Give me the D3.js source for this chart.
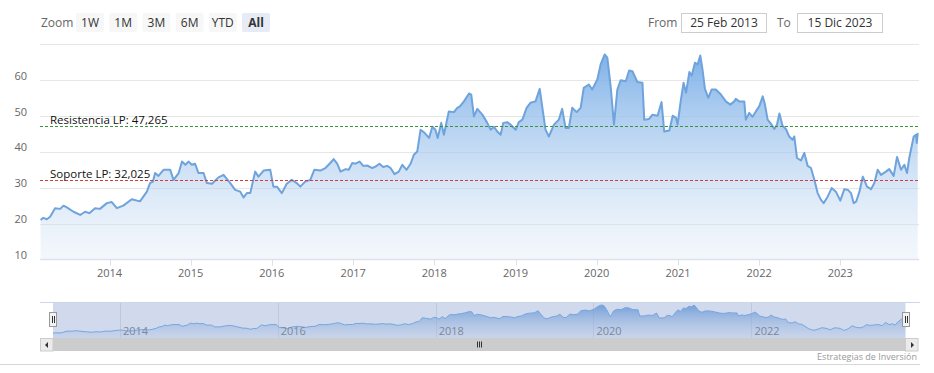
<!DOCTYPE html>
<html>
<head>
<meta charset="utf-8">
<script src="https://cdn.jsdelivr.net/npm/d3@7/dist/d3.min.js"></script>
<style>
    body { margin: 0; background: #fff; }
    svg text { font-family: "Open Sans", sans-serif; }
</style>
</head>
<body>
<svg id="chart" width="934" height="373"></svg>
<script>
// price series
var dates = [
    "2013-02-25","2013-03-09","2013-03-25","2013-04-09","2013-05-01","2013-05-24","2013-06-08","2013-06-23",
    "2013-07-23","2013-08-22","2013-09-13","2013-10-02","2013-10-28","2013-11-19","2013-12-20","2014-01-11",
    "2014-02-03","2014-03-04","2014-04-11","2014-05-18","2014-06-18","2014-07-02","2014-07-15","2014-07-25",
    "2014-08-09","2014-09-01","2014-10-01","2014-10-16","2014-11-08","2014-11-23","2014-12-08","2014-12-23",
    "2015-01-06","2015-01-21","2015-02-05","2015-02-28","2015-03-15","2015-04-07","2015-05-06","2015-05-29",
    "2015-06-28","2015-07-20","2015-08-12","2015-08-27","2015-09-11","2015-09-26","2015-10-18","2015-11-02",
    "2015-11-25","2015-12-25","2016-01-08","2016-01-24","2016-02-15","2016-03-08","2016-03-31","2016-04-22",
    "2016-05-08","2016-05-30","2016-06-22","2016-07-10","2016-08-06","2016-08-29","2016-09-20","2016-10-05",
    "2016-10-21","2016-11-05","2016-11-28","2016-12-12","2016-12-28","2017-01-11","2017-01-30","2017-02-15",
    "2017-03-05","2017-03-28","2017-04-11","2017-04-29","2017-05-16","2017-06-03","2017-06-18","2017-07-06",
    "2017-07-25","2017-08-10","2017-08-29","2017-09-16","2017-10-01","2017-10-16","2017-10-31","2017-11-15",
    "2017-12-08","2017-12-23","2018-01-06","2018-01-16","2018-02-01","2018-02-13","2018-03-07","2018-03-30",
    "2018-04-14","2018-04-26","2018-05-14","2018-06-06","2018-06-16","2018-06-28","2018-07-13","2018-08-05",
    "2018-08-27","2018-09-11","2018-09-26","2018-10-11","2018-10-26","2018-11-07","2018-11-25","2018-12-10",
    "2019-01-02","2019-01-16","2019-02-01","2019-02-20","2019-03-09","2019-04-01","2019-04-20","2019-05-01",
    "2019-05-16","2019-05-31","2019-06-23","2019-07-15","2019-07-30","2019-08-14","2019-08-29","2019-09-13",
    "2019-10-03","2019-10-21","2019-11-04","2019-11-27","2019-12-12","2020-01-04","2020-01-19","2020-02-06",
    "2020-02-18","2020-03-04","2020-03-19","2020-04-03","2020-04-18","2020-05-11","2020-05-26","2020-06-10",
    "2020-07-02","2020-07-25","2020-08-02","2020-08-24","2020-09-08","2020-10-01","2020-10-19","2020-10-31",
    "2020-11-23","2020-12-08","2020-12-23","2020-12-30","2021-01-14","2021-01-26","2021-02-06","2021-02-21",
    "2021-03-04","2021-03-18","2021-03-30","2021-04-11","2021-04-21","2021-05-02","2021-05-17","2021-06-01",
    "2021-06-20","2021-07-13","2021-08-04","2021-08-24","2021-09-11","2021-09-18","2021-10-03","2021-10-26",
    "2021-11-02","2021-11-17","2021-12-02","2021-12-17","2022-01-01","2022-01-17","2022-01-27","2022-02-08",
    "2022-02-26","2022-03-10","2022-03-22","2022-04-02","2022-04-16","2022-05-01","2022-05-16","2022-05-31",
    "2022-06-08","2022-06-20","2022-07-08","2022-07-23","2022-08-07","2022-08-22","2022-09-06","2022-09-21",
    "2022-10-06","2022-10-18","2022-11-05","2022-11-23","2022-12-12","2023-01-01","2023-01-19","2023-02-04",
    "2023-02-18","2023-03-02","2023-03-13","2023-03-28","2023-04-12","2023-05-01","2023-05-19","2023-06-03",
    "2023-06-18","2023-07-03","2023-07-25","2023-08-09","2023-08-29","2023-09-13","2023-10-01","2023-10-16",
    "2023-10-28","2023-11-07","2023-11-27","2023-12-07","2023-12-11","2023-12-15"
];
var prices = [
    21.0,21.6,21.2,21.9,24.3,24.1,25.0,24.5, 23.3,22.4,23.3,22.9,24.3,24.1,25.7,26.0,
    24.3,25.0,26.8,26.2,28.9,31.3,31.7,34.1, 33.3,35.0,35.0,32.2,34.1,37.3,36.4,37.3,
    36.4,36.7,34.1,34.1,31.3,31.1,32.9,33.6, 31.3,29.4,28.9,27.3,28.5,28.5,34.5,33.1,
    34.8,35.0,30.3,30.3,28.5,31.1,32.2,31.3, 30.3,31.7,32.2,35.0,34.8,35.5,36.9,38.0,
    36.7,34.5,35.2,35.0,36.9,36.7,37.3,36.1, 36.2,35.5,35.9,36.7,35.8,36.1,35.5,33.8,
    34.5,36.4,35.0,36.7,39.2,40.1,46.2,45.5, 43.9,47.0,46.2,43.9,48.1,44.8,51.3,51.1,
    52.3,52.7,54.1,56.3,56.0,49.9,52.0,50.4, 48.1,46.2,47.0,45.7,44.8,48.1,48.3,47.6,
    46.2,48.3,49.0,52.3,53.7,54.1,57.6,52.7, 46.2,44.3,47.6,49.0,52.0,46.7,46.7,52.3,
    51.1,52.3,57.9,58.8,57.4,60.2,64.4,67.2, 66.3,58.3,47.6,57.4,60.0,59.7,62.7,62.5,
    59.5,59.3,49.0,49.2,50.4,50.1,53.9,45.7, 46.0,50.1,49.5,47.6,54.6,59.3,56.5,62.3,
    61.3,64.9,64.4,66.9,63.0,57.6,55.1,57.4, 57.4,56.0,54.1,53.2,54.1,54.8,54.1,54.1,
    49.0,50.9,49.8,51.3,52.7,55.5,53.2,49.0, 47.6,46.4,47.6,50.7,47.3,46.4,44.3,43.4,
    44.3,38.3,37.6,39.7,36.1,35.5,32.2,28.5, 26.6,25.7,27.5,29.9,28.9,26.4,29.6,29.4,
    28.5,25.7,26.1,28.9,33.1,30.3,29.6,31.3, 35.0,33.6,34.5,35.2,33.3,38.6,35.0,36.4,
    34.1,38.3,44.3,44.8,42.5,45.3
];
var yTicks = [10, 20, 30, 40, 50, 60, 70];
var yearTicks = [2014, 2015, 2016, 2017, 2018, 2019, 2020, 2021, 2022, 2023];
var navYearTicks = [2014, 2016, 2018, 2020, 2022];
var levelValues = [47.265, 32.025];
var levelLabels = ["Resistencia LP: 47,265", "Soporte LP: 32,025"];
var levelColors = ["#3d9140", "#d23c3c"];
var zoomButtons = ["1W", "1M", "3M", "6M", "YTD", "All"];
var rangeFrom = "25 Feb 2013";
var rangeTo = "15 Dic 2023";
var credits = "Estrategias de Inversión";

var parse = d3.timeParse("%Y-%m-%d");
var data = dates.map(function (d, i) { return { date: parse(d), value: prices[i] }; });

var svg = d3.select("#chart");
var defs = svg.append("defs");

// main plot
var x = d3.scaleTime().domain([parse("2013-02-25"), parse("2023-12-15")]).range([40.6, 917.7]);
var y = d3.scaleLinear().domain([10, 70]).range([259.4, 44.4]);

var grad = defs.append("linearGradient").attr("id", "areaGrad")
    .attr("gradientUnits", "userSpaceOnUse")
    .attr("x1", 0).attr("x2", 0).attr("y1", y(70)).attr("y2", y(10));
grad.append("stop").attr("offset", "0%").attr("stop-color", "#6fa8e6").attr("stop-opacity", 0.95);
grad.append("stop").attr("offset", "100%").attr("stop-color", "#dfeaf6").attr("stop-opacity", 0.35);

svg.append("g").selectAll("line").data(yTicks).join("line")
    .attr("x1", 40).attr("x2", 919)
    .attr("y1", function (d) { return Math.round(y(d)) + 0.5; })
    .attr("y2", function (d) { return Math.round(y(d)) + 0.5; })
    .attr("stroke", "#e6e6e6").attr("stroke-width", 1);

svg.append("g").selectAll("text").data(yTicks.filter(function (d) { return d < 70; })).join("text")
    .attr("x", 27).attr("y", function (d) { return y(d) - 0.5; })
    .attr("text-anchor", "end").attr("font-size", 11).attr("fill", "#666")
    .text(function (d) { return d; });

var area = d3.area().x(function (d) { return x(d.date); })
    .y0(y(10)).y1(function (d) { return y(d.value); });
var line = d3.line().x(function (d) { return x(d.date); }).y(function (d) { return y(d.value); });

svg.append("path").datum(data).attr("d", area).attr("fill", "url(#areaGrad)");
svg.append("path").datum(data).attr("d", line).attr("fill", "none")
    .attr("stroke", "#6fa3dc").attr("stroke-width", 2).attr("stroke-linejoin", "round");

// support / resistance lines
levelValues.forEach(function (v, i) {
    var ly = Math.round(y(v)) + 0.5;
    svg.append("line").attr("x1", 40).attr("x2", 919).attr("y1", ly).attr("y2", ly)
        .attr("stroke", levelColors[i]).attr("stroke-width", 1).attr("stroke-dasharray", "3,2");
    svg.append("text").attr("x", 50).attr("y", ly - 3)
        .attr("font-size", 11.5).attr("fill", "#111").text(levelLabels[i]);
});

// x axis
var xAxisY = 259.5;
svg.append("line").attr("x1", 40).attr("x2", 919).attr("y1", xAxisY).attr("y2", xAxisY)
    .attr("stroke", "#dde1ea").attr("stroke-width", 1.5);
var yearDates = yearTicks.map(function (yr) { return new Date(yr, 0, 1); });
svg.append("g").selectAll("line").data(yearDates).join("line")
    .attr("x1", function (d) { return Math.round(x(d)) + 0.5; })
    .attr("x2", function (d) { return Math.round(x(d)) + 0.5; })
    .attr("y1", xAxisY).attr("y2", xAxisY + 6).attr("stroke", "#dde1ea");
svg.append("g").selectAll("text").data(yearDates).join("text")
    .attr("x", function (d) { return x(d); }).attr("y", 277)
    .attr("text-anchor", "middle").attr("font-size", 11).attr("fill", "#666")
    .text(d3.timeFormat("%Y"));

// navigator
var nx = d3.scaleTime().domain(x.domain()).range([53, 905.5]);
var ny = d3.scaleLinear().domain([13, 72]).range([338, 302]);
var navGrad = defs.append("linearGradient").attr("id", "navGrad")
    .attr("gradientUnits", "userSpaceOnUse")
    .attr("x1", 0).attr("x2", 0).attr("y1", 302).attr("y2", 338);
navGrad.append("stop").attr("offset", "0%").attr("stop-color", "#5d97dc").attr("stop-opacity", 0.9);
navGrad.append("stop").attr("offset", "100%").attr("stop-color", "#d6e4f4").attr("stop-opacity", 0.3);

var navYearDates = navYearTicks.map(function (yr) { return new Date(yr, 0, 1); });
svg.append("g").selectAll("line").data(navYearDates).join("line")
    .attr("x1", function (d) { return Math.round(nx(d)) + 0.5; })
    .attr("x2", function (d) { return Math.round(nx(d)) + 0.5; })
    .attr("y1", 302).attr("y2", 338).attr("stroke", "#e6e6e6");

var navArea = d3.area().x(function (d) { return nx(d.date); })
    .y0(338).y1(function (d) { return ny(d.value); });
var navLine = d3.line().x(function (d) { return nx(d.date); }).y(function (d) { return ny(d.value); });
svg.append("path").datum(data).attr("d", navArea).attr("fill", "url(#navGrad)");
svg.append("path").datum(data).attr("d", navLine).attr("fill", "none")
    .attr("stroke", "#7cb5ec").attr("stroke-width", 1);

svg.append("g").selectAll("text").data(navYearDates).join("text")
    .attr("x", function (d) { return nx(d) + 3; }).attr("y", 335)
    .attr("font-size", 11).attr("fill", "#888")
    .text(d3.timeFormat("%Y"));

// mask over selected range
svg.append("rect").attr("x", 53).attr("y", 302).attr("width", 852.5).attr("height", 36)
    .attr("fill", "rgba(102,133,194,0.3)");
svg.append("line").attr("x1", 40).attr("x2", 920).attr("y1", 302.5).attr("y2", 302.5)
    .attr("stroke", "#ccd6eb");

// handles
[53, 905.5].forEach(function (hx) {
    var g = svg.append("g").attr("transform", "translate(" + Math.round(hx - 4) + ",312)");
    g.append("rect").attr("x", 0.5).attr("y", 0.5).attr("width", 7).attr("height", 14)
        .attr("fill", "#f2f2f2").attr("stroke", "#999");
    g.append("line").attr("x1", 3.5).attr("x2", 3.5).attr("y1", 4).attr("y2", 11).attr("stroke", "#333");
    g.append("line").attr("x1", 5.5).attr("x2", 5.5).attr("y1", 4).attr("y2", 11).attr("stroke", "#333");
});

// scrollbar
svg.append("rect").attr("x", 53).attr("y", 338).attr("width", 852.5).attr("height", 13).attr("fill", "#cccccc");
svg.append("rect").attr("x", 40.5).attr("y", 338.5).attr("width", 12.5).attr("height", 12.5)
    .attr("fill", "#ebebeb").attr("stroke", "#cccccc");
svg.append("rect").attr("x", 905.5).attr("y", 338.5).attr("width", 12.5).attr("height", 12.5)
    .attr("fill", "#ebebeb").attr("stroke", "#cccccc");
svg.append("path").attr("d", "M48,342 L48,348 L45,345 Z").attr("fill", "#333");
svg.append("path").attr("d", "M911,342 L911,348 L914,345 Z").attr("fill", "#333");
[-2, 0, 2].forEach(function (o) {
    var cx = 479 + o;
    svg.append("line").attr("x1", cx + 0.5).attr("x2", cx + 0.5).attr("y1", 341.5).attr("y2", 347.5)
        .attr("stroke", "#333");
});

// credits and bottom rule
svg.append("text").attr("x", 917).attr("y", 360).attr("text-anchor", "end")
    .attr("font-size", 9).attr("fill", "#999").text(credits);
svg.append("line").attr("x1", 0).attr("x2", 920).attr("y1", 364.5).attr("y2", 364.5).attr("stroke", "#d8d8d8");

// range selector
svg.append("text").attr("x", 41).attr("y", 27).attr("font-size", 12).attr("fill", "#666").text("Zoom");
var btn = svg.append("g").selectAll("g").data(zoomButtons).join("g")
    .attr("transform", function (d, i) { return "translate(" + (76 + i * 33.2) + ",13)"; });
btn.append("rect").attr("width", 28).attr("height", 19).attr("rx", 2)
    .attr("fill", function (d) { return d === "All" ? "#e6ebf5" : "#f7f7f7"; });
btn.append("text").attr("x", 14).attr("y", 14).attr("text-anchor", "middle")
    .attr("font-size", 12).attr("fill", "#333")
    .attr("font-weight", function (d) { return d === "All" ? "bold" : "normal"; })
    .text(function (d) { return d; });

svg.append("text").attr("x", 648).attr("y", 27).attr("font-size", 12).attr("fill", "#666").text("From");
svg.append("rect").attr("x", 681.5).attr("y", 13.5).attr("width", 85).attr("height", 19)
    .attr("fill", "#fff").attr("stroke", "#cccccc");
svg.append("text").attr("x", 724).attr("y", 27).attr("text-anchor", "middle")
    .attr("font-size", 12).attr("fill", "#333").text(rangeFrom);
svg.append("text").attr("x", 777).attr("y", 27).attr("font-size", 12).attr("fill", "#666").text("To");
svg.append("rect").attr("x", 797.5).attr("y", 13.5).attr("width", 85).attr("height", 19)
    .attr("fill", "#fff").attr("stroke", "#cccccc");
svg.append("text").attr("x", 840).attr("y", 27).attr("text-anchor", "middle")
    .attr("font-size", 12).attr("fill", "#333").text(rangeTo);
</script>
</body>
</html>
